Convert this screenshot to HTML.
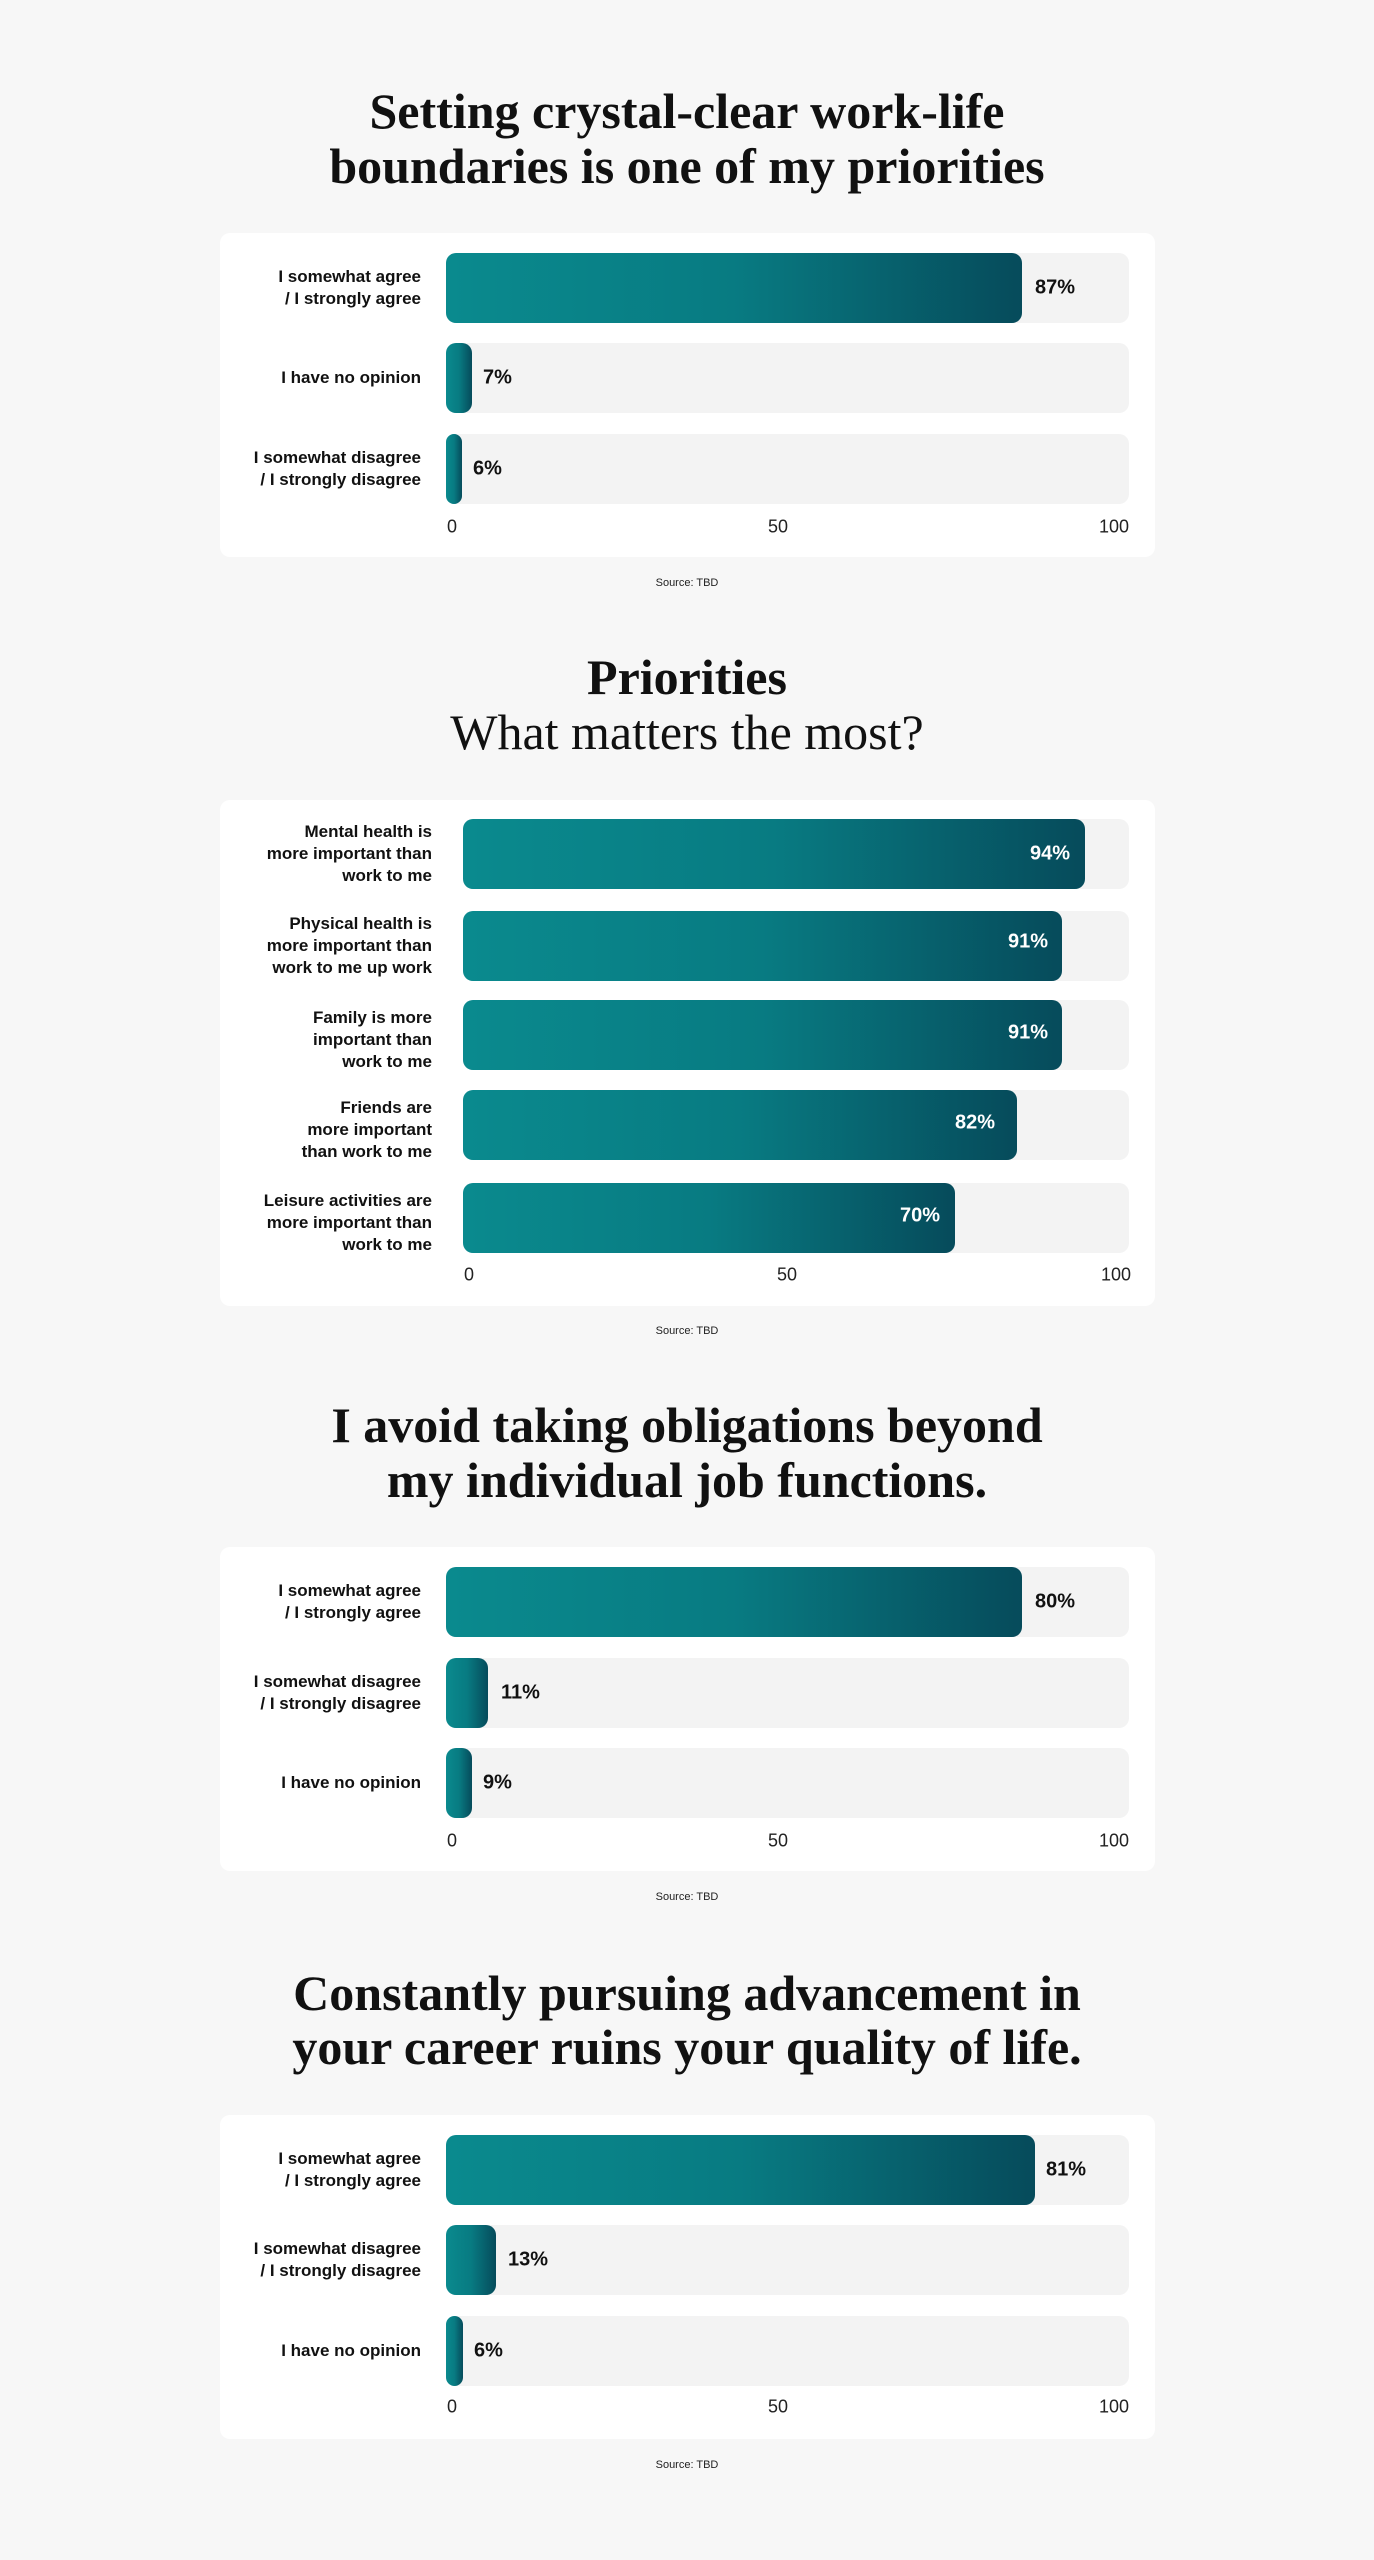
<!DOCTYPE html>
<html><head><meta charset="utf-8"><style>
*{margin:0;padding:0;box-sizing:border-box}
body{width:1374px;height:2560px;background:#f7f7f7;position:relative;font-family:"Liberation Sans",sans-serif;overflow:hidden}
.t{position:absolute;left:0;width:1374px;text-align:center;font-family:"Liberation Serif",serif;font-weight:bold;font-size:50px;color:#111;line-height:1}
.card{position:absolute;left:220px;width:935px;background:#fff;border-radius:10px}
.track{position:absolute;background:#f3f3f3;border-radius:10px;height:70px}
.bar{position:absolute;border-radius:10px;height:70px;background:linear-gradient(90deg,#0a8a8e 0%,#087b82 50%,#064b5b 100%)}
.lab{position:absolute;text-align:right;font-weight:bold;font-size:17px;line-height:22px;color:#111;transform:translateY(-50%)}
.val{position:absolute;font-weight:bold;font-size:20px;color:#111;transform:translateY(-50%)}
.val.w{color:#fff}
.ax{position:absolute;font-size:18px;color:#222;transform:translate(-50%,-50%)}
.src{position:absolute;left:0;width:1374px;text-align:center;font-size:11px;color:#222}
</style></head><body>

<div class="t" style="top:86px">Setting crystal-clear work-life</div>
<div class="t" style="top:141px">boundaries is one of my priorities</div>
<div class="card" style="top:233px;height:324px"></div>
<div class="track" style="left:446px;width:683px;top:253px"></div>
<div class="bar" style="left:446px;width:576px;top:253px"></div>
<div class="val" style="left:1035px;top:288px">87%</div>
<div class="lab" style="right:953px;top:288px">I somewhat agree<br>/ I strongly agree</div>
<div class="track" style="left:446px;width:683px;top:343px"></div>
<div class="bar" style="left:446px;width:26px;top:343px"></div>
<div class="val" style="left:483px;top:378px">7%</div>
<div class="lab" style="right:953px;top:378px">I have no opinion</div>
<div class="track" style="left:446px;width:683px;top:434px"></div>
<div class="bar" style="left:446px;width:16px;top:434px"></div>
<div class="val" style="left:473px;top:469px">6%</div>
<div class="lab" style="right:953px;top:469px">I somewhat disagree<br>/ I strongly disagree</div>
<div class="ax" style="left:452px;top:527px">0</div>
<div class="ax" style="left:778px;top:527px">50</div>
<div class="ax" style="left:1114px;top:527px">100</div>
<div class="src" style="top:577px">Source: TBD</div>

<div class="t" style="top:652px">Priorities</div>
<div class="t" style="top:707px;font-weight:normal">What matters the most?</div>
<div class="card" style="top:800px;height:506px"></div>
<div class="track" style="left:463px;width:666px;top:819px"></div>
<div class="bar" style="left:463px;width:622px;top:819px"></div>
<div class="val w" style="left:1030px;top:854px">94%</div>
<div class="lab" style="right:942px;top:854px">Mental health is<br>more important than<br>work to me</div>
<div class="track" style="left:463px;width:666px;top:911px"></div>
<div class="bar" style="left:463px;width:599px;top:911px"></div>
<div class="val w" style="left:1008px;top:942px">91%</div>
<div class="lab" style="right:942px;top:946px">Physical health is<br>more important than<br>work to me up work</div>
<div class="track" style="left:463px;width:666px;top:1000px"></div>
<div class="bar" style="left:463px;width:599px;top:1000px"></div>
<div class="val w" style="left:1008px;top:1033px">91%</div>
<div class="lab" style="right:942px;top:1040px">Family is more<br>important than<br>work to me</div>
<div class="track" style="left:463px;width:666px;top:1090px"></div>
<div class="bar" style="left:463px;width:554px;top:1090px"></div>
<div class="val w" style="left:955px;top:1123px">82%</div>
<div class="lab" style="right:942px;top:1130px">Friends are<br>more important<br>than work to me</div>
<div class="track" style="left:463px;width:666px;top:1183px"></div>
<div class="bar" style="left:463px;width:492px;top:1183px"></div>
<div class="val w" style="left:900px;top:1216px">70%</div>
<div class="lab" style="right:942px;top:1223px">Leisure activities are<br>more important than<br>work to me</div>
<div class="ax" style="left:469px;top:1275px">0</div>
<div class="ax" style="left:787px;top:1275px">50</div>
<div class="ax" style="left:1116px;top:1275px">100</div>
<div class="src" style="top:1325px">Source: TBD</div>

<div class="t" style="top:1400px">I avoid taking obligations beyond</div>
<div class="t" style="top:1455px">my individual job functions.</div>
<div class="card" style="top:1547px;height:324px"></div>
<div class="track" style="left:446px;width:683px;top:1567px"></div>
<div class="bar" style="left:446px;width:576px;top:1567px"></div>
<div class="val" style="left:1035px;top:1602px">80%</div>
<div class="lab" style="right:953px;top:1602px">I somewhat agree<br>/ I strongly agree</div>
<div class="track" style="left:446px;width:683px;top:1658px"></div>
<div class="bar" style="left:446px;width:42px;top:1658px"></div>
<div class="val" style="left:501px;top:1693px">11%</div>
<div class="lab" style="right:953px;top:1693px">I somewhat disagree<br>/ I strongly disagree</div>
<div class="track" style="left:446px;width:683px;top:1748px"></div>
<div class="bar" style="left:446px;width:26px;top:1748px"></div>
<div class="val" style="left:483px;top:1783px">9%</div>
<div class="lab" style="right:953px;top:1783px">I have no opinion</div>
<div class="ax" style="left:452px;top:1841px">0</div>
<div class="ax" style="left:778px;top:1841px">50</div>
<div class="ax" style="left:1114px;top:1841px">100</div>
<div class="src" style="top:1891px">Source: TBD</div>

<div class="t" style="top:1968px">Constantly pursuing advancement in</div>
<div class="t" style="top:2022px">your career ruins your quality of life.</div>
<div class="card" style="top:2115px;height:324px"></div>
<div class="track" style="left:446px;width:683px;top:2135px"></div>
<div class="bar" style="left:446px;width:589px;top:2135px"></div>
<div class="val" style="left:1046px;top:2170px">81%</div>
<div class="lab" style="right:953px;top:2170px">I somewhat agree<br>/ I strongly agree</div>
<div class="track" style="left:446px;width:683px;top:2225px"></div>
<div class="bar" style="left:446px;width:50px;top:2225px"></div>
<div class="val" style="left:508px;top:2260px">13%</div>
<div class="lab" style="right:953px;top:2260px">I somewhat disagree<br>/ I strongly disagree</div>
<div class="track" style="left:446px;width:683px;top:2316px"></div>
<div class="bar" style="left:446px;width:17px;top:2316px"></div>
<div class="val" style="left:474px;top:2351px">6%</div>
<div class="lab" style="right:953px;top:2351px">I have no opinion</div>
<div class="ax" style="left:452px;top:2407px">0</div>
<div class="ax" style="left:778px;top:2407px">50</div>
<div class="ax" style="left:1114px;top:2407px">100</div>
<div class="src" style="top:2459px">Source: TBD</div>

</body></html>
